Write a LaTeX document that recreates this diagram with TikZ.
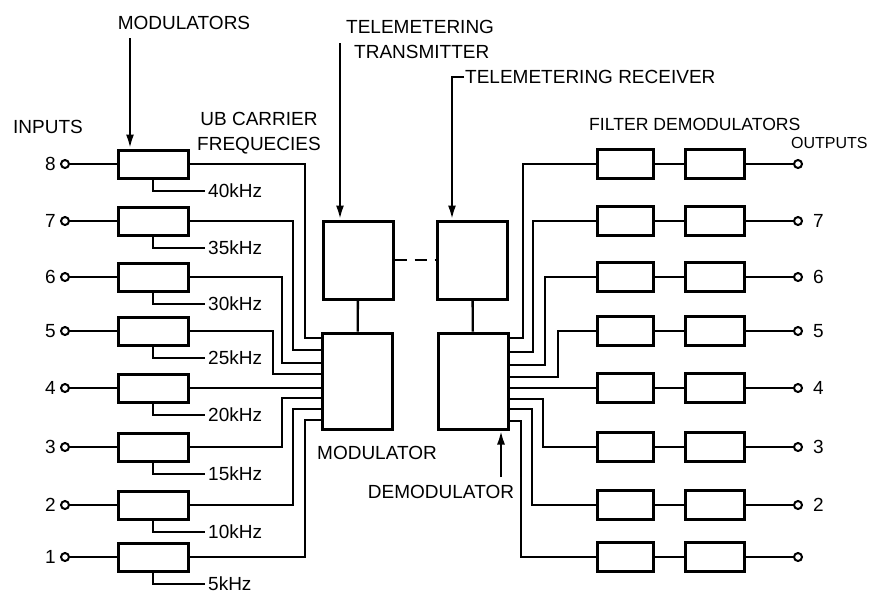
\documentclass[tikz,border=0pt]{standalone}
\usepackage{fontspec}
\setmainfont{Liberation Sans}
\usetikzlibrary{arrows.meta}

\begin{document}
\begin{tikzpicture}[x=0.5pt, y=-0.5pt, >={Latex[length=7pt,width=4pt]},
  line width=1.2pt,
  blk/.style={draw, line width=1.5pt, rectangle, inner sep=0pt},
  modbox/.style={blk, minimum width=35pt, minimum height=14pt},
  fltbox/.style={blk, minimum width=28pt, minimum height=14.5pt},
  dmdbox/.style={blk, minimum width=29.5pt, minimum height=14.5pt},
  bigbox/.style={blk, minimum width=35pt},
  term/.style={draw, circle, line width=1pt, minimum size=4pt, inner sep=0pt, fill=white},
  lbl/.style={font=\fontsize{9.5}{12.5}\selectfont, inner sep=0pt}]

  \useasboundingbox (0,0) rectangle (873,602);

  % transmitter / receiver and the two central units
  \node[bigbox, minimum height=39pt] (tx) at (358,260) {};
  \node[bigbox, minimum height=48pt] (modu) at (357.5,381) {};
  \node[bigbox, minimum height=39pt] (rx) at (472.5,260) {};
  \node[bigbox, minimum height=48pt] (demod) at (473,381) {};
  \draw (tx) -- (modu);
  \draw (rx) -- (demod);
  \draw[dash pattern=on 6pt off 4pt] (tx) -- (rx);

  % modulators with their inputs and carriers
  \foreach \n/\y/\fq in {8/164/40,7/221/35,6/277/30,5/331/25,4/388/20,3/447/15,2/505/10,1/557/5}{
    \node[modbox] (mod\n) at (153,\y) {};
    \node[term] (in\n) at (65,\y) {};
    \node[lbl, anchor=east] (num\n) at (57,\y) {\n};
    \coordinate (sub\n) at (205,\y+27);
    \node[lbl, anchor=west] (khz\n) at ([xshift=1pt]sub\n) {\fq kHz};
    \draw (in\n) -- (mod\n);
    \draw (mod\n.south) |- (sub\n);
  }

  % modulator outputs to the central modulator
  \foreach \n/\xv/\ye in {8/305/338,7/293/350,6/282/363,5/273/374,3/282/398,2/293/409,1/305/420}
    \draw (mod\n.east) -| (\xv,\ye) -- (modu.west |- 0,\ye);
  \draw (mod4.east) -- (modu.west |- mod4.east);

  % filters, demodulators, outputs
  \foreach \n/\y in {8/164,7/221,6/277,5/331,4/388,3/447,2/505,1/557}{
    \node[fltbox] (flt\n) at (625,\y) {};
    \node[dmdbox] (dmd\n) at (714.5,\y) {};
    \node[term] (out\n) at (798,\y) {};
    \draw (flt\n) -- (dmd\n);
    \draw (dmd\n) -- (out\n);
  }
  \foreach \n in {7,6,5,4,3,2}
    \node[lbl, anchor=west] (onum\n) at ([xshift=7pt]out\n.center) {\n};

  % central demodulator to the filters
  \foreach \n/\xv/\ye in {8/523/338,7/533/352,6/545/365,5/558/377,3/543/399,2/532/409,1/521/421}
    \draw (demod.east |- 0,\ye) -| (\xv,0 |- flt\n.west) -- (flt\n.west);
  \draw (demod.east |- flt4.west) -- (flt4.west);

  % labels and pointers
  \node[lbl] (inlbl) at (48,127) {INPUTS};
  \node[lbl] (modslbl) at (184,23) {MODULATORS};
  \coordinate (modstail) at (130,38);
  \draw[->] (modstail) -- (mod8.north -| modstail);

  \node[lbl, align=center] (sclbl) at (259,133) {UB CARRIER\\FREQUECIES};

  \node[lbl, align=left, anchor=north west] (txlbl) at (345,19) {TELEMETERING\\\hspace{4pt}TRANSMITTER};
  \coordinate (txtail) at (340,43);
  \draw[->] (txtail) -- (tx.north -| txtail);

  \node[lbl, anchor=west] (rxlbl) at (464,77) {TELEMETERING RECEIVER};
  \draw[->] (rxlbl.west) -| (rx.north -| 452,0);

  \node[lbl, font=\fontsize{8.8}{11}\selectfont, anchor=west] (fdlbl) at (588,124) {FILTER DEMODULATORS};
  \node[lbl, font=\fontsize{8}{10}\selectfont, anchor=west] (outlbl) at (790,143) {OUTPUTS};

  \node[lbl] (mlbl) at (377,453) {MODULATOR};
  \node[lbl] (dmlbl) at (441,492) {DEMODULATOR};
  \coordinate (dmtail) at (501,477);
  \draw[->] (dmtail) -- (demod.south -| dmtail);

\end{tikzpicture}
\end{document}
